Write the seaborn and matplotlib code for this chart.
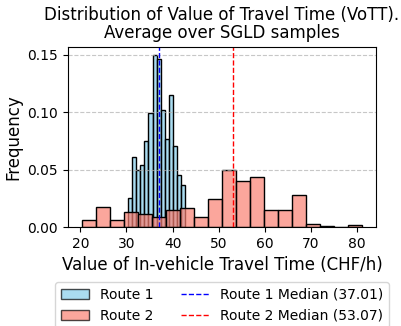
import matplotlib
matplotlib.use("Agg")
import matplotlib.pyplot as plt
from matplotlib.patches import Patch
from matplotlib.lines import Line2D
import numpy as np
import seaborn as sns

# Route 1 VoTT histogram (density per bin)
route1_edges = [30.39, 31.27, 32.14, 33.02, 33.89, 34.77, 35.65, 36.52,
                37.40, 38.27, 39.15, 40.03, 40.90, 41.78, 42.65]
route1_density = [0.0251, 0.0613, 0.0497, 0.0538, 0.0751, 0.0994, 0.1494,
                  0.1457, 0.1014, 0.0766, 0.1150, 0.0708, 0.0454, 0.0364]

# Route 2 VoTT histogram (density per bin)
route2_edges = [20.36, 23.39, 26.42, 29.46, 32.49, 35.52, 38.55, 41.58,
                44.62, 47.65, 50.68, 53.71, 56.74, 59.78, 62.81, 65.84,
                68.87, 71.90, 74.94, 77.97, 81.00]
route2_density = [0.0061, 0.0179, 0.0064, 0.0136, 0.0118, 0.0092, 0.0153,
                  0.0171, 0.0087, 0.0249, 0.0497, 0.0405, 0.0434, 0.0150,
                  0.0153, 0.0277, 0.0029, 0.0012, 0.0000, 0.0017]

route1_median = 37.01
route2_median = 53.07

fig = plt.figure(figsize=(4.02, 3.26), dpi=100)
ax = fig.add_axes([0.169, 0.303, 0.766, 0.554])

def centers(edges):
    e = np.asarray(edges)
    return (e[:-1] + e[1:]) / 2

sns.histplot(x=centers(route1_edges), weights=route1_density, bins=route1_edges,
             stat="count", color="skyblue", alpha=0.7, edgecolor="black", ax=ax)
sns.histplot(x=centers(route2_edges), weights=route2_density, bins=route2_edges,
             stat="count", color="salmon", alpha=0.7, edgecolor="black", ax=ax)

ax.axvline(route1_median, color="blue", linestyle="--", linewidth=1)
ax.axvline(route2_median, color="red", linestyle="--", linewidth=1)

ax.set_title("Distribution of Value of Travel Time (VoTT).\nAverage over SGLD samples",
             fontsize=12, linespacing=1.0)
ax.set_xlabel("Value of In-vehicle Travel Time (CHF/h)", fontsize=12)
ax.set_ylabel("Frequency", fontsize=12)
ax.tick_params(labelsize=10)
ax.set_xticks([20, 30, 40, 50, 60, 70, 80])
ax.set_yticks([0.0, 0.05, 0.10, 0.15])
ax.grid(axis="y", linestyle="--", alpha=0.7)

handles = [
    Patch(facecolor="skyblue", edgecolor="black", alpha=0.7, label="Route 1"),
    Patch(facecolor="salmon", edgecolor="black", alpha=0.7, label="Route 2"),
    Line2D([0], [0], color="blue", linestyle="--", linewidth=1,
           label=f"Route 1 Median ({route1_median:.2f})"),
    Line2D([0], [0], color="red", linestyle="--", linewidth=1,
           label=f"Route 2 Median ({route2_median:.2f})"),
]
ax.legend(handles=handles, ncol=2, loc="upper center",
          bbox_to_anchor=(0.5, -0.265), fontsize=10)

fig.savefig("out.png", dpi=100)
